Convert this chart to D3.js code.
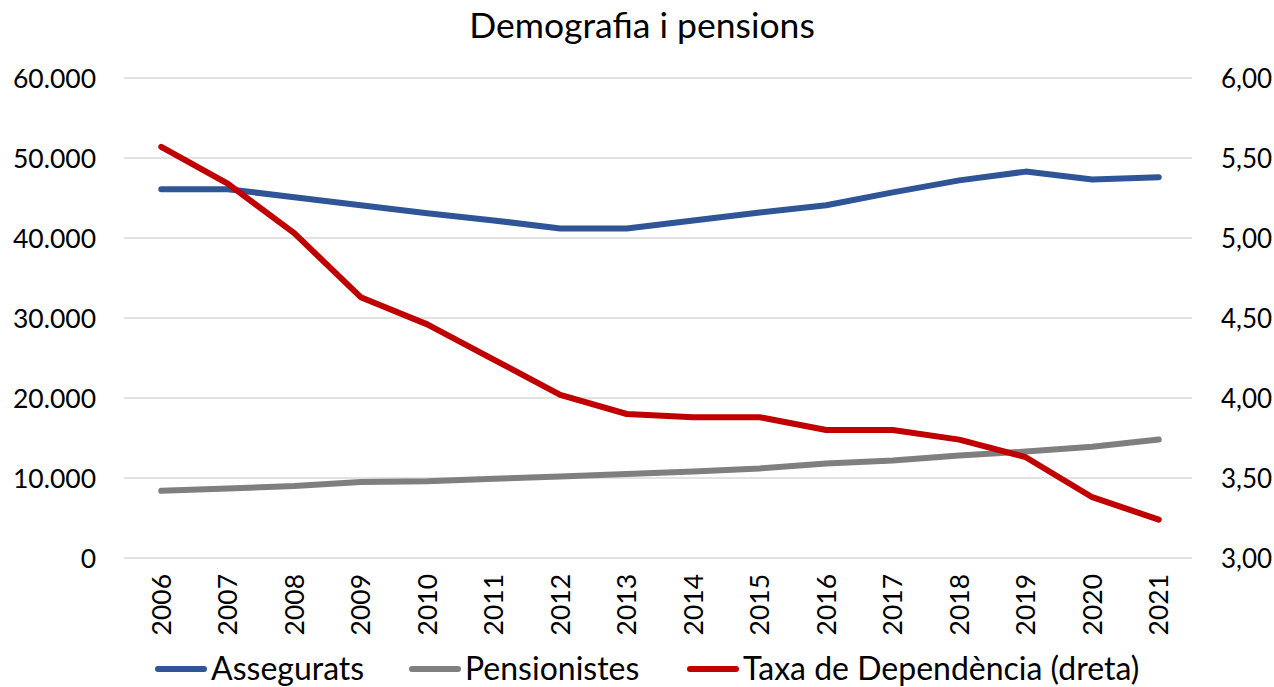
<!DOCTYPE html>
<html>
<head>
<meta charset="utf-8">
<script src="https://cdn.jsdelivr.net/npm/d3@7"></script>
<style>
  body { margin: 0; background: #fff; }
  text { font-family: Lato, "Open Sans", sans-serif; fill: #000; }
</style>
</head>
<body>
<div id="chart"></div>
<script>
// data
const years = ['2006', '2007', '2008', '2009', '2010', '2011', '2012', '2013',
               '2014', '2015', '2016', '2017', '2018', '2019', '2020', '2021'];
const assegurats = [46100, 46100, 45100, 44100, 43100, 42200, 41200, 41200,
                    42200, 43200, 44100, 45700, 47200, 48300, 47300, 47600];
const pensionistes = [8400, 8700, 9000, 9500, 9600, 9900, 10200, 10500,
                      10800, 11200, 11800, 12200, 12800, 13300, 13900, 14800];
const taxa = [5.57, 5.34, 5.03, 4.63, 4.46, 4.24, 4.02, 3.90,
              3.88, 3.88, 3.80, 3.80, 3.74, 3.63, 3.38, 3.24];
const leftTicks = [0, 10000, 20000, 30000, 40000, 50000, 60000];
const rightTicks = [3, 3.5, 4, 4.5, 5, 5.5, 6];

const width = 1274, height = 687;
const margin = { top: 78, right: 82, bottom: 129, left: 128 };
const innerW = width - margin.left - margin.right;
const innerH = height - margin.top - margin.bottom;

const svg = d3.select('#chart')
    .append('svg')
    .attr('width', width)
    .attr('height', height);

const g = svg.append('g')
    .attr('transform', `translate(${margin.left}, ${margin.top})`);

// scales
const x = d3.scaleBand().domain(years).range([0, innerW]);
const yLeft = d3.scaleLinear().domain([0, 60000]).range([innerH, 0]);
const yRight = d3.scaleLinear().domain([3, 6]).range([innerH, 0]);

const fmtLeft = d => d === 0 ? '0' : d3.format(',')(d).replace(/,/g, '.');
const fmtRight = d => d.toFixed(2).replace('.', ',');

// gridlines
g.append('g')
    .selectAll('line')
    .data(leftTicks)
    .enter()
    .append('line')
    .attr('x1', -4)
    .attr('x2', innerW)
    .attr('y1', d => yLeft(d))
    .attr('y2', d => yLeft(d))
    .attr('stroke', '#d9d9d9')
    .attr('stroke-width', 1.5);

// left axis
const leftAxis = g.append('g')
    .call(d3.axisLeft(yLeft).tickValues(leftTicks).tickFormat(fmtLeft).tickSize(0).tickPadding(32));
leftAxis.select('.domain').remove();
leftAxis.selectAll('text').style('font-size', '26.5px').attr('dy', '0.35em');

// right axis
const rightAxis = g.append('g')
    .attr('transform', `translate(${innerW}, 0)`)
    .call(d3.axisRight(yRight).tickValues(rightTicks).tickFormat(fmtRight).tickSize(0).tickPadding(29));
rightAxis.select('.domain').remove();
rightAxis.selectAll('text').style('font-size', '26px').attr('dy', '0.35em');

// x axis with rotated year labels
const xAxis = g.append('g')
    .attr('transform', `translate(0, ${innerH})`)
    .call(d3.axisBottom(x).tickSize(0));
xAxis.select('.domain').remove();
xAxis.selectAll('text')
    .style('font-size', '26.5px')
    .attr('transform', 'rotate(-90)')
    .attr('text-anchor', 'end')
    .attr('x', -16)
    .attr('y', 0)
    .attr('dy', '0.35em');

// lines
const cx = d => x(d) + x.bandwidth() / 2;

const series = [
    { name: 'Assegurats', values: assegurats, scale: yLeft, color: '#2f5597' },
    { name: 'Pensionistes', values: pensionistes, scale: yLeft, color: '#7f7f7f' },
    { name: 'Taxa de Dependència (dreta)', values: taxa, scale: yRight, color: '#c00000' }
];

series.forEach(s => {
    const line = d3.line()
        .x((d, i) => cx(years[i]))
        .y(d => s.scale(d));
    g.append('path')
        .datum(s.values)
        .attr('fill', 'none')
        .attr('stroke', s.color)
        .attr('stroke-width', 6)
        .attr('stroke-linecap', 'round')
        .attr('stroke-linejoin', 'round')
        .attr('d', line);
});

// title
svg.append('text')
    .attr('x', 642)
    .attr('y', 38)
    .attr('text-anchor', 'middle')
    .style('font-size', '35.5px')
    .text('Demografia i pensions');

// legend
const legendX = [158, 412, 690];
const legend = svg.append('g').attr('transform', 'translate(0, 669)');
series.forEach((s, i) => {
    legend.append('line')
        .attr('x1', legendX[i])
        .attr('x2', legendX[i] + 46)
        .attr('y1', 0)
        .attr('y2', 0)
        .attr('stroke', s.color)
        .attr('stroke-width', 6)
        .attr('stroke-linecap', 'round');
    legend.append('text')
        .attr('x', legendX[i] + 53)
        .attr('y', 0)
        .attr('dy', '0.35em')
        .style('font-size', '32px')
        .text(s.name);
});
</script>
</body>
</html>
